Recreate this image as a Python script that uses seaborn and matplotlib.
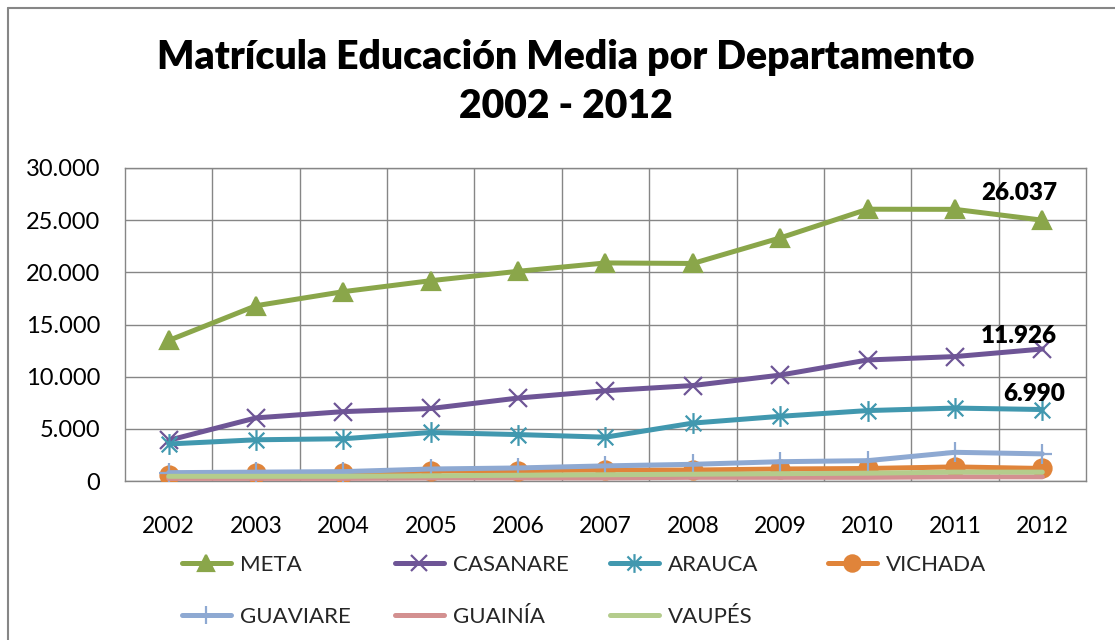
import matplotlib
matplotlib.use("Agg")
import matplotlib.pyplot as plt
import seaborn as sns
import pandas as pd
from matplotlib.ticker import FuncFormatter, MultipleLocator
from matplotlib.lines import Line2D
from matplotlib.path import Path

years = list(range(2002, 2013))
departamentos = ["META", "CASANARE", "ARAUCA", "VICHADA", "GUAVIARE", "GUAINÍA", "VAUPÉS"]
meta = [13470, 16800, 18150, 19200, 20100, 20900, 20850, 23300, 26050, 26037, 25000]
casanare = [3900, 6050, 6650, 6950, 7950, 8650, 9150, 10150, 11600, 11926, 12650]
arauca = [3550, 3950, 4050, 4650, 4450, 4200, 5550, 6200, 6750, 6990, 6850]
vichada = [550, 750, 750, 950, 1000, 1050, 1050, 1150, 1200, 1350, 1200]
guaviare = [800, 850, 900, 1150, 1250, 1450, 1600, 1850, 1950, 2750, 2600]
guainia = [250, 250, 250, 300, 300, 300, 350, 350, 350, 400, 400]
vaupes = [450, 450, 450, 500, 550, 600, 650, 700, 750, 850, 850]
series = [meta, casanare, arauca, vichada, guaviare, guainia, vaupes]
labels_2011 = {"META": 26037, "CASANARE": 11926, "ARAUCA": 6990}

# asterisk: vertical stroke plus an X
star = Path([(0, -1), (0, 1), (-0.75, -0.75), (0.75, 0.75), (-0.75, 0.75), (0.75, -0.75)],
            [Path.MOVETO, Path.LINETO, Path.MOVETO, Path.LINETO, Path.MOVETO, Path.LINETO])

colors = ["#8AA64A", "#6E5596", "#4198AF", "#E0843A", "#8EA9D2", "#D39090", "#B4CC8C"]
markers = ["^", "x", star, "o", "+", None, None]
msizes = [13, 13, 15, 13, 14, 0, 0]

df = pd.DataFrame([(d, y, v) for d, vals in zip(departamentos, series) for y, v in zip(years, vals)],
                  columns=["dep", "year", "value"])

sns.set_theme(style="white")
plt.rcParams['font.family'] = ['Lato', 'DejaVu Sans']

fig = plt.figure(figsize=(11.15, 6.4), dpi=100)
ax = fig.add_axes([125 / 1115, 1 - 481 / 640, (1086 - 125) / 1115, (481 - 168) / 640])

grid_c = "#868686"
for i, d in enumerate(departamentos):
    sub = df[df.dep == d]
    kw = dict(color=colors[i], linewidth=3.6, zorder=3 + i, legend=False, ax=ax)
    if markers[i] is not None:
        kw.update(marker=markers[i], markersize=msizes[i], markeredgecolor=colors[i],
                  markerfacecolor=colors[i], markeredgewidth=1.6)
    sns.lineplot(data=sub, x="year", y="value", **kw)

ax.set_xlim(2001.5, 2012.5)
ax.set_ylim(0, 30000)
ax.yaxis.set_major_locator(MultipleLocator(5000))
ax.yaxis.set_major_formatter(FuncFormatter(lambda v, p: f"{int(v):,}".replace(",", ".")))
ax.set_xticks(years)
ax.set_xticks([y + 0.5 for y in years[:-1]], minor=True)
ax.grid(True, which="major", axis="y", color=grid_c, lw=1.0)
ax.grid(True, which="minor", axis="x", color=grid_c, lw=1.0)
ax.grid(False, which="major", axis="x")
ax.set_axisbelow(True)
for s in ax.spines.values():
    s.set_color(grid_c)
    s.set_linewidth(1.0)
ax.tick_params(axis="x", which="both", length=0, pad=25, labelsize=16.5, labelcolor="black")
ax.tick_params(axis="y", length=0, pad=18, labelsize=17, labelcolor="black")
ax.set_xlabel("")
ax.set_ylabel("")

# data labels (2011 values, drawn toward 2012)
offsets = {"META": (46, 12), "CASANARE": (46, 15), "ARAUCA": (57, 10)}
for d, v in labels_2011.items():
    ax.annotate(f"{v:,}".replace(",", "."), xy=(2011, v), xytext=offsets[d],
                textcoords="offset points", ha="center", va="center",
                fontsize=17.5, fontweight="heavy", color="black", zorder=20)

fig.text(566 / 1115, 1 - 57 / 640, "Matrícula Educación Media por Departamento",
         ha="center", va="center", fontsize=28.2, fontweight="heavy", color="black")
fig.text(566 / 1115, 1 - 107 / 640, "2002 - 2012",
         ha="center", va="center", fontsize=28.2, fontweight="heavy", color="black")

# legend, one entry per slot
slots = [(182, 565), (395, 565), (610, 565), (828, 565), (182, 617), (395, 617), (610, 617)]
for i, d in enumerate(departamentos):
    h = Line2D([], [], color=colors[i], lw=3.6,
               marker=markers[i] if markers[i] is not None else "",
               markersize=msizes[i] * 0.9, markeredgecolor=colors[i],
               markerfacecolor=colors[i], markeredgewidth=1.6)
    x, y = slots[i]
    fig.legend(handles=[h], labels=[d], loc="center left",
               bbox_to_anchor=(x / 1115, 1 - y / 640), frameon=False,
               fontsize=16, handlelength=2.2, handletextpad=0.4,
               borderpad=0, borderaxespad=0, numpoints=1)

# chart border
fig.add_artist(Line2D([8 / 1115, 8 / 1115], [0, 1 - 8 / 640], color=grid_c, lw=1.5,
                      transform=fig.transFigure))
fig.add_artist(Line2D([8 / 1115, 1], [1 - 8 / 640, 1 - 8 / 640], color=grid_c, lw=1.5,
                      transform=fig.transFigure))

fig.savefig("out.png", dpi=100)
